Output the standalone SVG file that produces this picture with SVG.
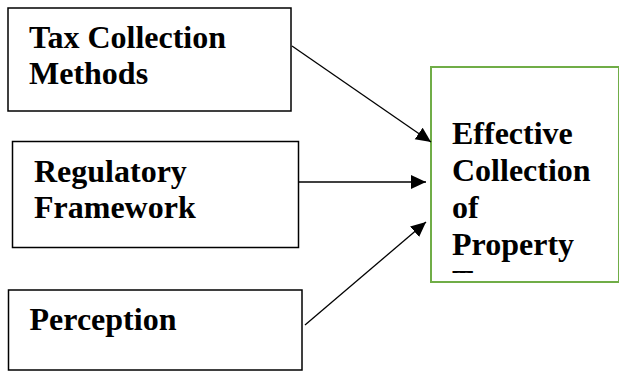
<svg xmlns="http://www.w3.org/2000/svg" width="619" height="371" viewBox="0 0 619 371">
  <style>
    .box { fill: #ffffff; stroke: #000000; stroke-width: 1.5; }
    .goal { fill: #ffffff; stroke: #70ad47; stroke-width: 2; }
    .label { font-family: "Liberation Serif", "Times New Roman", serif; font-weight: bold; font-size: 32px; fill: #000000; }
    .link { stroke: #000000; stroke-width: 1.3; fill: none; }
  </style>
  <defs>
    <marker id="head" markerUnits="userSpaceOnUse" markerWidth="16" markerHeight="15" refX="15" refY="7" orient="auto">
      <path d="M0,0 L15,7 L0,14 z" fill="#000000"/>
    </marker>
    <clipPath id="goalClip">
      <rect x="431" y="68" width="188" height="205"/>
    </clipPath>
  </defs>

  <rect width="619" height="371" fill="#ffffff"/>

  <g id="tax-collection-methods">
    <rect class="box" x="8" y="8" width="283" height="103"/>
    <text class="label" x="29" y="48">Tax Collection</text>
    <text class="label" x="29" y="84">Methods</text>
  </g>

  <g id="regulatory-framework">
    <rect class="box" x="12.5" y="141.5" width="286" height="106"/>
    <text class="label" x="34" y="181.5">Regulatory</text>
    <text class="label" x="34" y="218">Framework</text>
  </g>

  <g id="perception">
    <rect class="box" x="8.5" y="290" width="293.5" height="80"/>
    <text class="label" x="29.5" y="330">Perception</text>
  </g>

  <g id="effective-collection">
    <rect class="goal" x="431" y="67" width="188" height="215"/>
    <g clip-path="url(#goalClip)">
      <text class="label" x="452" y="143.5">Effective</text>
      <text class="label" x="452" y="180.5">Collection</text>
      <text class="label" x="452" y="217.5">of</text>
      <text class="label" x="452" y="254.5">Property</text>
      <text class="label" x="452" y="291.5">Taxes</text>
    </g>
  </g>

  <g id="connectors">
    <line class="link" x1="292" y1="46" x2="431" y2="142" marker-end="url(#head)"/>
    <line class="link" x1="299" y1="182" x2="426" y2="182" marker-end="url(#head)"/>
    <line class="link" x1="305" y1="325" x2="426" y2="222" marker-end="url(#head)"/>
  </g>
</svg>
